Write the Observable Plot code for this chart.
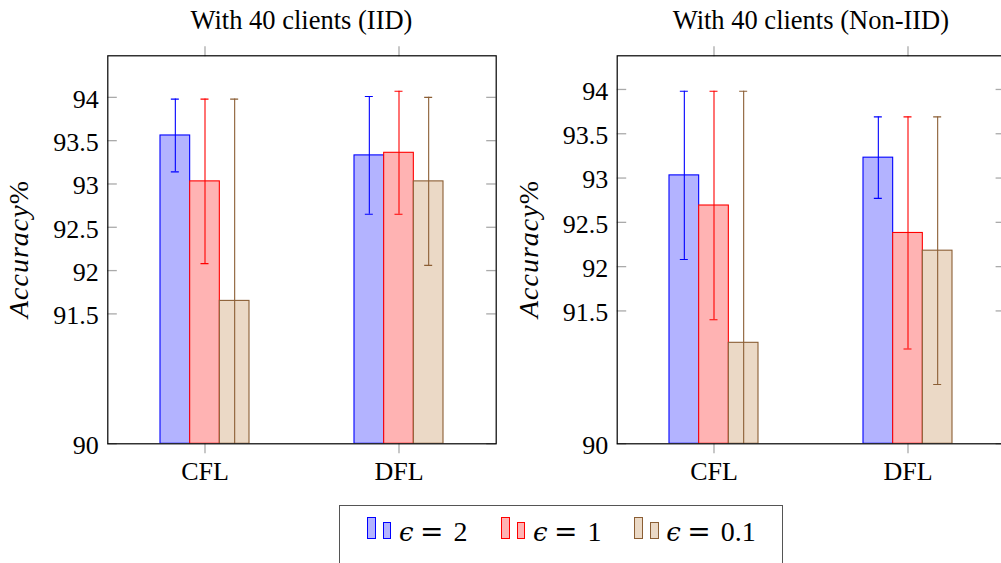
<!DOCTYPE html>
<html><head><meta charset="utf-8">
<script src="https://cdn.jsdelivr.net/npm/d3@7"></script>
<script src="https://cdn.jsdelivr.net/npm/@observablehq/plot@0.6"></script>
<style>
html,body{margin:0;padding:0;background:#fff;overflow:hidden}
#root{position:relative;width:1001px;height:563px;overflow:hidden;font-family:"Liberation Serif",serif;color:#000;background:#fff}
.panel{position:absolute;top:0}
.title{position:absolute;text-align:center;font-size:26.5px;line-height:26px;white-space:nowrap}
.ylab{position:absolute;font-family:"Liberation Serif",serif;font-size:28px;line-height:28px;white-space:nowrap;transform:translate(-50%,-50%) rotate(-90deg);letter-spacing:1px}
#legend{position:absolute;left:339.3px;top:505px;width:443.4px;height:80px;border:1px solid #555;box-sizing:border-box}
.sw{position:absolute;box-sizing:border-box;border:1.3px solid}
.lab{position:absolute;font-family:"Liberation Serif",serif;font-size:28px;line-height:28px;white-space:nowrap}
.eps{display:inline-block;width:21px;font-family:"DejaVu Serif",serif;font-style:italic;font-size:26px}
.eq{display:inline-block;width:33.4px;font-family:"DejaVu Serif",serif;font-size:28px}
</style></head>
<body><div id="root"></div>
<script>
// ---- data ----
const categories = ["CFL", "DFL"];
const epsilonLabels = ["2", "1", "0.1"];
const panelTitles = ["With 40 clients (IID)", "With 40 clients (Non-IID)"];
const yTicks = [90, 91.5, 92, 92.5, 93, 93.5, 94];
const yTickLabels = ["90", "91.5", "92", "92.5", "93", "93.5", "94"];
const yBase = 90;
const yTopIID = 94.48;
const yTopNonIID = 94.38;

// IID accuracy (mean) and error (+/-)
const iidEps2 = [93.56, 93.33];
const iidEps1 = [93.03, 93.36];
const iidEps01 = [91.65, 93.03];
const iidErr2 = [0.42, 0.68];
const iidErr1 = [0.95, 0.71];
const iidErr01 = [2.33, 0.97];

// Non-IID accuracy (mean) and error (+/-)
const nonIidEps2 = [93.03, 93.23];
const nonIidEps1 = [92.69, 92.38];
const nonIidEps01 = [91.14, 92.18];
const nonIidErr2 = [0.95, 0.46];
const nonIidErr1 = [1.29, 1.31];
const nonIidErr01 = [2.84, 1.51];

const colors = [
  {fill: "#b3b3ff", stroke: "#0000ff"},
  {fill: "#ffb3b3", stroke: "#ff0000"},
  {fill: "#ebd9c6", stroke: "#8b5e34"}
];

function rows(means, errs) {
  return categories.map((c, i) => ({cat: c, v: means[i], e: errs[i]}));
}

const W = 500, H = 500;
const frameTop = 55.3, frameBottom = 443.3;

function panel(seriesData, yTop, mLeft, mRight) {
  const mTop = frameTop, mBottom = H - frameBottom;
  const FW = W - mLeft - mRight;
  const group = 89, bw = group / 3;
  const pI = 1 - group / (FW / 2), pO = pI / 2;
  const capInset = (group - 8) / 2;
  const marks = [];
  seriesData.forEach((data, i) => {
    marks.push(Plot.barY(data, {x: "cat", y1: yBase, y2: "v", fill: colors[i].fill, stroke: colors[i].stroke,
      strokeWidth: 1.1, insetLeft: i * bw, insetRight: (2 - i) * bw, clip: true}));
  });
  seriesData.forEach((data, i) => {
    const dx = (i - 1) * bw;
    const st = {stroke: colors[i].stroke, strokeWidth: 1.1, clip: true};
    marks.push(Plot.ruleX(data, {x: "cat", y1: d => d.v - d.e, y2: d => d.v + d.e, dx, ...st}));
    marks.push(Plot.tickY(data, {x: "cat", y: d => d.v + d.e, dx, insetLeft: capInset, insetRight: capInset, ...st}));
    marks.push(Plot.tickY(data, {x: "cat", y: d => d.v - d.e, dx, insetLeft: capInset, insetRight: capInset, ...st}));
  });
  marks.push(Plot.tickY(yTicks, {y: d => d, stroke: "#aaa", strokeWidth: 1.3, insetRight: FW - 9.5}));
  marks.push(Plot.tickY(yTicks, {y: d => d, stroke: "#aaa", strokeWidth: 1.3, insetLeft: FW - 9.5}));
  marks.push(Plot.axisY({ticks: yTicks, tickFormat: d => yTickLabels[yTicks.indexOf(d)], tickSize: 0, tickPadding: 9,
    label: null, dy: 2, fill: "#000", fontVariant: "normal", fontFamily: '"Liberation Serif", serif'}));
  marks.push(Plot.axisX({anchor: "bottom", tickSize: 10, tickPadding: 8, stroke: "#aaa", strokeWidth: 1.3, fill: "#000",
    label: null, fontFamily: '"Liberation Serif", serif'}));
  marks.push(Plot.axisX({anchor: "top", tickSize: 10, tickFormat: () => "", stroke: "#aaa", strokeWidth: 1.3, label: null}));
  marks.push(Plot.frame({stroke: "#000", strokeWidth: 1.2}));
  return Plot.plot({
    width: W, height: H,
    marginLeft: mLeft, marginRight: mRight, marginTop: mTop, marginBottom: mBottom,
    x: {type: "band", domain: categories, paddingInner: pI, paddingOuter: pO, label: null},
    y: {domain: [yBase, yTop], label: null},
    style: {fontFamily: '"Liberation Serif", serif', fontSize: "26px", background: "transparent", overflow: "visible", maxWidth: "none"},
    marks
  });
}

const root = document.getElementById("root");
const panels = [
  {left: 0, mLeft: 107.3, mRight: 4.3, yTop: yTopIID,
   data: [rows(iidEps2, iidErr2), rows(iidEps1, iidErr1), rows(iidEps01, iidErr01)], title: panelTitles[0], ylabX: 19},
  {left: 510, mLeft: 106.7, mRight: 4.9, yTop: yTopNonIID,
   data: [rows(nonIidEps2, nonIidErr2), rows(nonIidEps1, nonIidErr1), rows(nonIidEps01, nonIidErr01)], title: panelTitles[1], ylabX: 529}
];
panels.forEach(p => {
  const div = document.createElement("div");
  div.className = "panel";
  div.style.left = p.left + "px";
  div.appendChild(panel(p.data, p.yTop, p.mLeft, p.mRight));
  root.appendChild(div);
  const t = document.createElement("div");
  t.className = "title";
  t.style.left = (p.left + p.mLeft) + "px";
  t.style.width = (W - p.mLeft - p.mRight) + "px";
  t.style.top = "6.5px";
  t.textContent = p.title;
  root.appendChild(t);
  const yl = document.createElement("div");
  yl.className = "ylab";
  yl.style.left = p.ylabX + "px";
  yl.style.top = ((frameTop + frameBottom) / 2) + "px";
  yl.innerHTML = "<i>Accuracy</i>%";
  root.appendChild(yl);
});

// legend
const legend = document.createElement("div");
legend.id = "legend";
const itemX = [26.7, 160.7, 294];
epsilonLabels.forEach((lab, i) => {
  const big = document.createElement("div");
  big.className = "sw";
  Object.assign(big.style, {left: itemX[i] + "px", top: "10.7px", width: "9px", height: "22.6px",
    background: colors[i].fill, borderColor: colors[i].stroke});
  const small = document.createElement("div");
  small.className = "sw";
  Object.assign(small.style, {left: (itemX[i] + 16) + "px", top: "15.7px", width: "8.4px", height: "17.6px",
    background: colors[i].fill, borderColor: colors[i].stroke});
  const t = document.createElement("div");
  t.className = "lab";
  Object.assign(t.style, {left: (itemX[i] + 32) + "px", top: "12.25px"});
  t.innerHTML = '<span class="eps">ϵ</span><span class="eq">=</span>' + lab;
  legend.append(big, small, t);
});
root.appendChild(legend);
</script></body></html>
